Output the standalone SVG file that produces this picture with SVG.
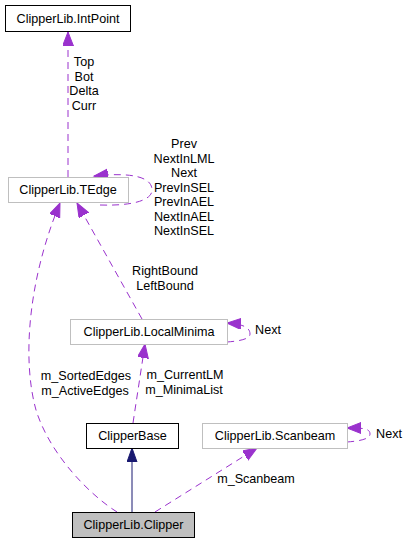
<svg xmlns="http://www.w3.org/2000/svg" width="409" height="544" viewBox="0 0 409 544">
<style>
text{font-family:"Liberation Sans",Arial,sans-serif;font-size:12.6px;fill:#000;text-anchor:middle}
.doc{fill:#fff;stroke:#000;stroke-width:1}
.und{fill:#fff;stroke:#bfbfbf;stroke-width:1}
.cur{fill:#bfbfbf;stroke:#000;stroke-width:1}
.use{fill:none;stroke:#9a32cd;stroke-width:1;stroke-dasharray:7,5}
.inh{fill:none;stroke:#191970;stroke-width:1}
</style>
<defs>
<marker id="ap" markerUnits="userSpaceOnUse" markerWidth="16" markerHeight="12" refX="14" refY="5.5" orient="auto">
<path d="M0,0 L14,5.5 L0,11 z" fill="#9a32cd" stroke="#9a32cd" stroke-width="1"/>
</marker>
<marker id="an" markerUnits="userSpaceOnUse" markerWidth="16" markerHeight="12" refX="14" refY="5" orient="auto">
<path d="M0,0 L14,5 L0,10 z" fill="#191970" stroke="#191970" stroke-width="1"/>
</marker>
</defs>
<g id="connectors">
<path class="use" d="M68,177 L68,32" marker-end="url(#ap)"/>
<path class="use" d="M100,205 C130,206 152,201 152,190 C152,177 132,172 94,176" marker-end="url(#ap)"/>
<path class="use" d="M142,319 L77,203" marker-end="url(#ap)"/>
<path class="use" d="M117,512 C90,495 50,455 36,410 C22,360 28,280 60,203" marker-end="url(#ap)"/>
<path class="use" d="M227,342 C240,341 250,339 250,334 C250,327 242,324 227,323" marker-end="url(#ap)"/>
<path class="use" d="M133,423 L145,344" marker-end="url(#ap)"/>
<path class="use" d="M347,442 C360,441 370,439 370,434 C370,428 362,428 347,428" marker-end="url(#ap)"/>
<path class="use" d="M155,512 L257,448" marker-end="url(#ap)"/>
<path class="inh" d="M132,512 L132,448" marker-end="url(#an)"/>
<text x="84" y="66">Top</text>
<text x="84" y="80.5">Bot</text>
<text x="84" y="95">Delta</text>
<text x="84" y="109.5">Curr</text>
<text x="184" y="148">Prev</text>
<text x="184" y="162.5">NextInLML</text>
<text x="184" y="177">Next</text>
<text x="184" y="191.5">PrevInSEL</text>
<text x="184" y="206">PrevInAEL</text>
<text x="184" y="220.5">NextInAEL</text>
<text x="184" y="235">NextInSEL</text>
<text x="165" y="275">RightBound</text>
<text x="165" y="290">LeftBound</text>
<text x="268" y="334">Next</text>
<text x="86" y="380">m_SortedEdges</text>
<text x="85" y="395">m_ActiveEdges</text>
<text x="185" y="379">m_CurrentLM</text>
<text x="184" y="394">m_MinimaList</text>
<text x="389" y="438">Next</text>
<text x="256" y="483">m_Scanbeam</text>
</g>
<g id="node-intpoint">
<rect class="doc" x="5.5" y="5.5" width="125" height="26"/>
<text x="68" y="22.5">ClipperLib.IntPoint</text>
</g>
<g id="node-tedge">
<rect class="und" x="8.5" y="177.5" width="120" height="25"/>
<text x="68" y="194">ClipperLib.TEdge</text>
</g>
<g id="node-localminima">
<rect class="und" x="70.5" y="319.5" width="157" height="25"/>
<text x="149" y="336">ClipperLib.LocalMinima</text>
</g>
<g id="node-clipperbase">
<rect class="doc" x="86.5" y="423.5" width="92" height="25"/>
<text x="132.5" y="440">ClipperBase</text>
</g>
<g id="node-scanbeam">
<rect class="und" x="202.5" y="423.5" width="145" height="25"/>
<text x="275" y="440">ClipperLib.Scanbeam</text>
</g>
<g id="node-clipper">
<rect class="cur" x="72.5" y="512.5" width="122" height="25"/>
<text x="133.5" y="529">ClipperLib.Clipper</text>
</g>
</svg>
